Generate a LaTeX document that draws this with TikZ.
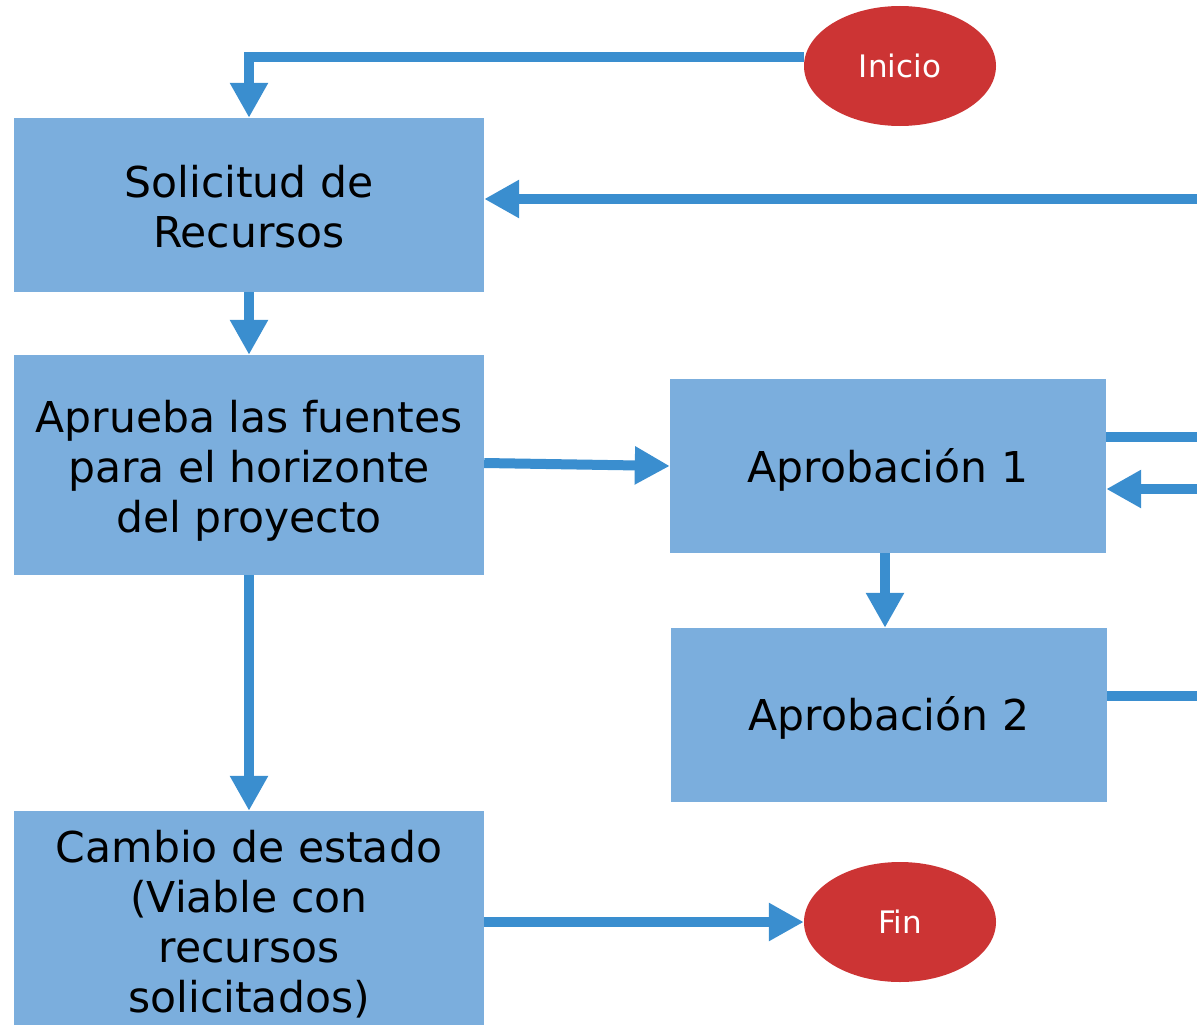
\documentclass[tikz,border=0pt]{standalone}
\usepackage{fontspec}
\setmainfont{DejaVu Sans}
\usetikzlibrary{arrows.meta,shapes.geometric}
\definecolor{boxblue}{HTML}{7BAEDD}
\definecolor{arrblue}{HTML}{3A8ECF}
\definecolor{ovalred}{HTML}{CC3434}
\newcommand\myup[1]{\rule{0pt}{#1}}
\tikzset{
  procbox/.style={rectangle, fill=boxblue, draw=none, inner sep=0pt, minimum width=470pt, align=center, font=\fontsize{42.5}{50}\selectfont},
  oval/.style={ellipse, fill=ovalred, draw=none, inner sep=0pt, minimum width=192pt, minimum height=120pt, text=white, font=\fontsize{31}{36}\selectfont},
  arr/.style={draw=arrblue, line width=10pt, -{Triangle[length=35pt,width=36pt]}},
  ln/.style={draw=arrblue, line width=10pt}
}
\begin{document}
\begin{tikzpicture}[x=1pt,y=-1pt]
\useasboundingbox (0,0) rectangle (1197,1025);
\clip (0,0) rectangle (1197,1025);
\node[procbox, minimum height=174pt] (sol) at (249,205) {\myup{36pt}Solicitud de\\Recursos};
\node[procbox, minimum height=220pt] (apr) at (249,465) {\myup{44pt}Aprueba las fuentes\\para el horizonte\\del proyecto};
\node[procbox, minimum height=222pt] (cam) at (249,922) {\myup{36pt}Cambio de estado\\(Viable con\\recursos\\solicitados)};
\node[procbox, minimum width=436pt, minimum height=174pt] (a1) at (888,466) {\myup{42pt}Aprobación 1};
\node[procbox, minimum width=436pt, minimum height=174pt] (a2) at (889,715) {\myup{40pt}Aprobación 2};
\node[oval] (ini) at (900,66) {Inicio};
\node[oval] (fin) at (900,922) {Fin};
\coordinate (r1) at (1197,199);
\coordinate (r2) at (1197,437);
\coordinate (r3) at (1197,489);
\coordinate (r4) at (1197,696);
\draw[arr] ([yshift=9pt]ini.west) -| (sol.north);
\draw[arr] (r1) -- (sol.east |- r1);
\draw[arr] (sol.south) -- (apr.north);
\draw[arr] ([yshift=2pt]apr.east) -- (a1.west);
\draw[arr] (apr.south) -- (cam.north);
\draw[arr] ([xshift=-3pt]a1.south) -- ([xshift=-4pt]a2.north);
\draw[ln] (a1.east |- r2) -- (r2);
\draw[arr] (r3) -- (a1.east |- r3);
\draw[ln] (a2.east |- r4) -- (r4);
\draw[arr] (cam.east) -- (fin.west);
\end{tikzpicture}
\end{document}
